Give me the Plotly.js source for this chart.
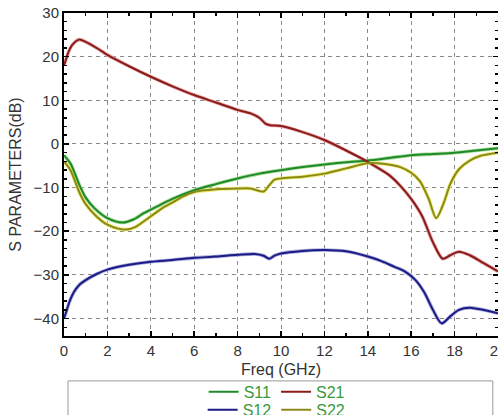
<!DOCTYPE html>
<html>
<head>
<meta charset="utf-8">
<script src="https://cdn.plot.ly/plotly-3.0.1.min.js"></script>
<style>html,body{margin:0;padding:0;background:#fff;}#chart{width:498px;height:415px;}</style>
</head>
<body>
<div id="chart"></div>
<script>
// Frequency (GHz) and dB values
var fS11 = [0, 0.3, 0.7, 1.0, 1.4, 2.0, 2.7, 3.2, 3.7, 4.5, 5, 6, 7, 8, 9, 10, 11, 12, 13, 14, 15, 16, 17, 18, 19, 20];
var dbS11 = [-2.6, -4.5, -9.3, -12.3, -14.7, -17.0, -18.0, -17.3, -15.8, -13.8, -12.6, -10.6, -9.2, -7.9, -6.8, -6.0, -5.3, -4.7, -4.2, -3.8, -3.2, -2.6, -2.3, -2.0, -1.5, -1.0];

var fS21 = [0, 0.1, 0.2, 0.4, 0.7, 1.0, 1.6, 2, 3, 4, 5, 6, 7, 8, 8.6, 9.0, 9.3, 9.5, 10, 11, 12, 13, 14, 14.5, 15, 15.5, 16, 16.5, 17, 17.45, 17.8, 18.2, 18.7, 19.3, 20];
var dbS21 = [18, 19.5, 21.0, 22.8, 23.9, 23.4, 21.7, 20.4, 17.8, 15.4, 13.2, 11.2, 9.5, 7.8, 7.0, 6.0, 4.6, 4.3, 4.1, 2.7, 0.9, -1.5, -4.1, -5.6, -7.2, -9.6, -12.6, -16.5, -22.5, -26.3, -25.5, -24.7, -25.5, -27.2, -29.2];

var fS12 = [0, 0.1, 0.25, 0.45, 0.7, 1.0, 1.5, 2, 3, 4, 5, 6, 7, 8, 8.8, 9.2, 9.45, 9.7, 10, 11, 12, 13, 14, 14.6, 15.2, 15.7, 16.2, 16.6, 17.0, 17.4, 17.8, 18.2, 18.7, 19.3, 20];
var dbS12 = [-40, -38.5, -36.2, -34.0, -32.3, -31.2, -29.8, -28.8, -27.7, -27.0, -26.6, -26.1, -25.8, -25.4, -25.2, -25.6, -26.3, -25.6, -25.1, -24.5, -24.3, -24.6, -25.8, -26.8, -28.1, -29.2, -31.2, -34.0, -38.0, -41.1, -39.5, -38.0, -37.5, -38.0, -38.8];

var fS22 = [0, 0.3, 0.7, 1.0, 1.5, 2.0, 2.5, 2.9, 3.3, 3.8, 4.5, 5, 5.5, 6, 7, 8, 8.6, 9.2, 9.45, 9.7, 10, 11, 12, 13, 14, 14.8, 15.5, 16, 16.4, 16.8, 17.15, 17.5, 17.8, 18.2, 18.7, 19.2, 20];
var dbS22 = [-4.0, -6.0, -11.0, -13.8, -16.6, -18.5, -19.4, -19.6, -19.0, -17.3, -14.8, -13.4, -12.0, -11.0, -10.4, -10.2, -10.2, -10.9, -9.5, -8.2, -7.9, -7.5, -6.8, -5.6, -4.4, -4.6, -5.3, -6.6, -8.5, -12.5, -17.0, -13.5, -9.2, -5.8, -3.8, -2.7, -2.0];

var names = ['S11', 'S21', 'S12', 'S22'];
var xs = [fS11, fS21, fS12, fS22];
var ys = [dbS11, dbS21, dbS12, dbS22];
var colors = ['#1f8a2a', '#8b1c1c', '#1c1c86', '#8a8a1c'];
var halos = ['#a8dc98', '#e6aaaa', '#aaaadc', '#ecea70'];
var legendOf = ['legend', 'legend', 'legend2', 'legend2'];

var traces = [];
for (var i = 0; i < 4; i++) {
  traces.push({x: xs[i], y: ys[i], mode: 'lines', showlegend: false, hoverinfo: 'skip',
    line: {color: halos[i], width: 3.6, shape: 'spline', smoothing: 0.8}});
}
for (var j = 0; j < 4; j++) {
  traces.push({x: xs[j], y: ys[j], mode: 'lines', name: names[j], legend: legendOf[j],
    line: {color: colors[j], width: 2, shape: 'spline', smoothing: 0.8}});
}

var font = {family: 'Liberation Sans, Arial, sans-serif', size: 15, color: '#333'};
var legendFont = {family: 'Liberation Sans, Arial, sans-serif', size: 16, color: '#3a9a3a'};

var layout = {
  width: 498, height: 415,
  margin: {l: 64, r: 0, t: 13, b: 79, autoexpand: false},
  paper_bgcolor: '#fff', plot_bgcolor: '#fff',
  font: font,
  xaxis: {
    range: [0, 20], tick0: 0, dtick: 2, ticklabeloverflow: 'allow',
    showline: true, linecolor: '#000', linewidth: 2, mirror: 'allticks',
    ticks: 'inside', ticklen: 5, tickwidth: 1.5, tickcolor: '#000',
    showgrid: true, gridcolor: '#8a8a8a', gridwidth: 1, griddash: '4px,4px',
    zeroline: false,
    minor: {ticks: 'inside', ticklen: 3, dtick: 1, tickcolor: '#000', showgrid: false},
    tickfont: font,
    title: {text: 'Freq (GHz)', font: {family: font.family, size: 16, color: '#333'}, standoff: 6}
  },
  yaxis: {
    range: [-44, 30], tick0: 0, dtick: 10,
    showline: true, linecolor: '#000', linewidth: 2, mirror: 'allticks',
    ticks: 'inside', ticklen: 5, tickwidth: 1.5, tickcolor: '#000',
    showgrid: true, gridcolor: '#8a8a8a', gridwidth: 1, griddash: '4px,4px',
    zeroline: false,
    minor: {ticks: 'inside', ticklen: 3, dtick: 2, tickcolor: '#000', showgrid: false},
    tickfont: font,
    title: {text: 'S PARAMETERS(dB)', font: {family: font.family, size: 16, color: '#333'}, standoff: 8}
  },
  legend: {orientation: 'h', x: 0.49, xanchor: 'center', y: -0.173, yanchor: 'middle',
    bgcolor: 'rgba(0,0,0,0)', borderwidth: 0, font: legendFont, itemwidth: 30},
  legend2: {orientation: 'h', x: 0.49, xanchor: 'center', y: -0.229, yanchor: 'middle',
    bgcolor: 'rgba(0,0,0,0)', borderwidth: 0, font: legendFont, itemwidth: 30},
  shapes: [{type: 'rect', xref: 'paper', yref: 'paper', x0: 0.0092, x1: 0.988, y0: -0.27, y1: -0.139,
    line: {color: '#9a9a9a', width: 1}, fillcolor: 'rgba(0,0,0,0)', layer: 'below'}]
};

Plotly.newPlot('chart', traces, layout, {displayModeBar: false, staticPlot: true});
</script>
</body>
</html>
